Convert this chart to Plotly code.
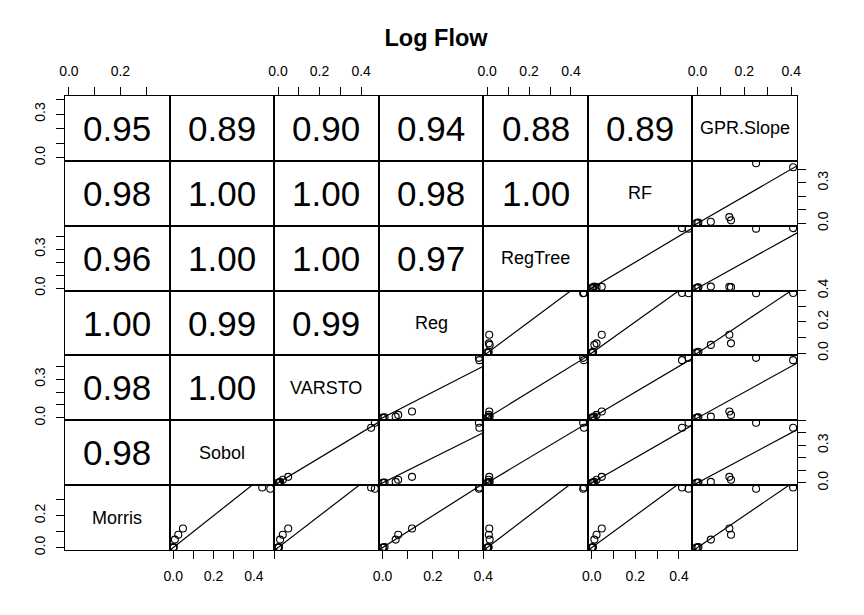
import plotly.graph_objects as go
from plotly.subplots import make_subplots

names = ["Morris", "Sobol", "VARSTO", "Reg", "RegTree", "RF", "GPR.Slope"]

# sensitivity index of each parameter, per method
morris = [0.376, 0.368, 0.120, 0.080, 0.050, 0.004, 0.000, 0.000]
sobol = [0.441, 0.481, 0.048, 0.025, 0.008, 0.002, 0.001, 0.001]
varsto = [0.448, 0.466, 0.049, 0.023, 0.010, 0.005, 0.000, 0.002]
reg = [0.385, 0.383, 0.117, 0.062, 0.052, 0.008, 0.003, 0.000]
regtree = [0.462, 0.458, 0.010, 0.008, 0.012, 0.007, 0.000, 0.005]
rf = [0.414, 0.444, 0.046, 0.022, 0.012, 0.006, 0.000, 0.003]
gpr_slope = [0.408, 0.250, 0.136, 0.143, 0.057, 0.004, -0.005, 0.000]

data = [morris, sobol, varsto, reg, regtree, rf, gpr_slope]

# correlations printed in the upper panels (row variable vs Morris, Sobol, ...)
cor_gpr = ["0.95", "0.89", "0.90", "0.94", "0.88", "0.89"]
cor_rf = ["0.98", "1.00", "1.00", "0.98", "1.00"]
cor_regtree = ["0.96", "1.00", "1.00", "0.97"]
cor_reg = ["1.00", "0.99", "0.99"]
cor_varsto = ["0.98", "1.00"]
cor_sobol = ["0.98"]
cors = {6: cor_gpr, 5: cor_rf, 4: cor_regtree, 3: cor_reg, 2: cor_varsto, 1: cor_sobol}

t4 = [0, 0.1, 0.2, 0.3, 0.4]
t5 = [0, 0.1, 0.2, 0.3, 0.4, 0.5]
t3 = [0, 0.1, 0.2, 0.3]
top_ticks = {0: (t3, ["0.0", "", "0.2", ""]),
             2: (t4, ["0.0", "", "0.2", "", "0.4"]),
             4: (t4, ["0.0", "", "0.2", "", "0.4"]),
             6: (t4, ["0.0", "", "0.2", "", "0.4"])}
bottom_ticks = {1: (t5, ["0.0", "", "0.2", "", "0.4", ""]),
                3: (t4, ["0.0", "", "0.2", "", "0.4"]),
                5: (t4, ["0.0", "", "0.2", "", "0.4"])}
left_ticks = {0: (t4, ["0.0", "", "", "0.3", ""]),
              2: (t4, ["0.0", "", "", "0.3", ""]),
              4: (t4, ["0.0", "", "", "0.3", ""]),
              6: (t3, ["0.0", "", "0.2", ""])}
right_ticks = {1: (t4, ["0.0", "", "", "0.3", ""]),
               3: (t4, ["0.0", "", "0.2", "", "0.4"]),
               5: (t5, ["0.0", "", "", "0.3", "", ""])}

n = len(names)
FONT = "Liberation Sans, Arial, sans-serif"


def rng(v):
    lo, hi = min(v), max(v)
    pad = 0.04 * (hi - lo)
    return [lo - pad, hi + pad]


ranges = [rng(v) for v in data]

fig = make_subplots(rows=n, cols=n, horizontal_spacing=0, vertical_spacing=0)

base_axis = dict(showline=True, mirror=True, linecolor="black", linewidth=1.1,
                 showgrid=False, zeroline=False, ticks="", showticklabels=False,
                 automargin=False,
                 tickfont=dict(family=FONT, size=14, color="black"),
                 ticklen=8, tickwidth=1.1, tickcolor="black")

annotations = []
for r in range(n):
    yv = n - 1 - r
    for c in range(n):
        k = r * n + c + 1
        sfx = "" if k == 1 else str(k)
        xa = dict(base_axis, range=ranges[c])
        ya = dict(base_axis, range=ranges[yv])
        if r == 0 and c in top_ticks:
            vals, txt = top_ticks[c]
            xa.update(side="top", ticks="outside", showticklabels=True,
                      tickvals=vals, ticktext=txt, ticklabelstandoff=5)
        if r == n - 1 and c in bottom_ticks:
            vals, txt = bottom_ticks[c]
            xa.update(side="bottom", ticks="outside", showticklabels=True,
                      tickvals=vals, ticktext=txt, ticklabelstandoff=5)
        if c == 0 and r in left_ticks:
            vals, txt = left_ticks[r]
            ya.update(side="left", ticks="outside", showticklabels=True,
                      tickvals=vals, ticktext=txt, tickangle=-90,
                      ticklabelstandoff=5)
        if c == n - 1 and r in right_ticks:
            vals, txt = right_ticks[r]
            ya.update(side="right", ticks="outside", showticklabels=True,
                      tickvals=vals, ticktext=txt, tickangle=-90,
                      ticklabelstandoff=5)
        fig.layout["xaxis" + sfx].update(xa)
        fig.layout["yaxis" + sfx].update(ya)

        if c <= yv:
            # empty trace so the panel (box and ticks) is drawn
            fig.add_trace(go.Scatter(x=[None], y=[None], mode="markers",
                                     hoverinfo="skip"), row=r + 1, col=c + 1)
            label = names[c] if c == yv else cors[yv][c]
            size = 18 if c == yv else 35
            annotations.append(dict(x=0.5, y=0.5, xref="x" + sfx + " domain",
                                    yref="y" + sfx + " domain", text=label,
                                    showarrow=False,
                                    font=dict(family=FONT, size=size, color="black")))
        else:
            lo = min(ranges[c][0], ranges[yv][0])
            hi = max(ranges[c][1], ranges[yv][1])
            fig.add_trace(go.Scatter(x=[lo, hi], y=[lo, hi], mode="lines",
                                     line=dict(color="black", width=1.2),
                                     hoverinfo="skip"), row=r + 1, col=c + 1)
            fig.add_trace(go.Scatter(x=data[c], y=data[yv], mode="markers",
                                     marker=dict(symbol="circle-open", size=7,
                                                 color="black",
                                                 line=dict(width=1.1, color="black"))),
                          row=r + 1, col=c + 1)

# page body adds an 8px offset, so the figure is a little smaller than the window
fig.update_layout(
    width=856, height=607,
    margin=dict(l=57, r=67, t=88, b=65, autoexpand=False),
    paper_bgcolor="white", plot_bgcolor="white",
    showlegend=False,
    annotations=annotations,
    title=dict(text="<b>Log Flow</b>", x=0.5, xanchor="center",
               y=1 - 30 / 607, yanchor="middle",
               font=dict(family=FONT, size=23.5, color="black")),
)

fig.write_html("out.html")
